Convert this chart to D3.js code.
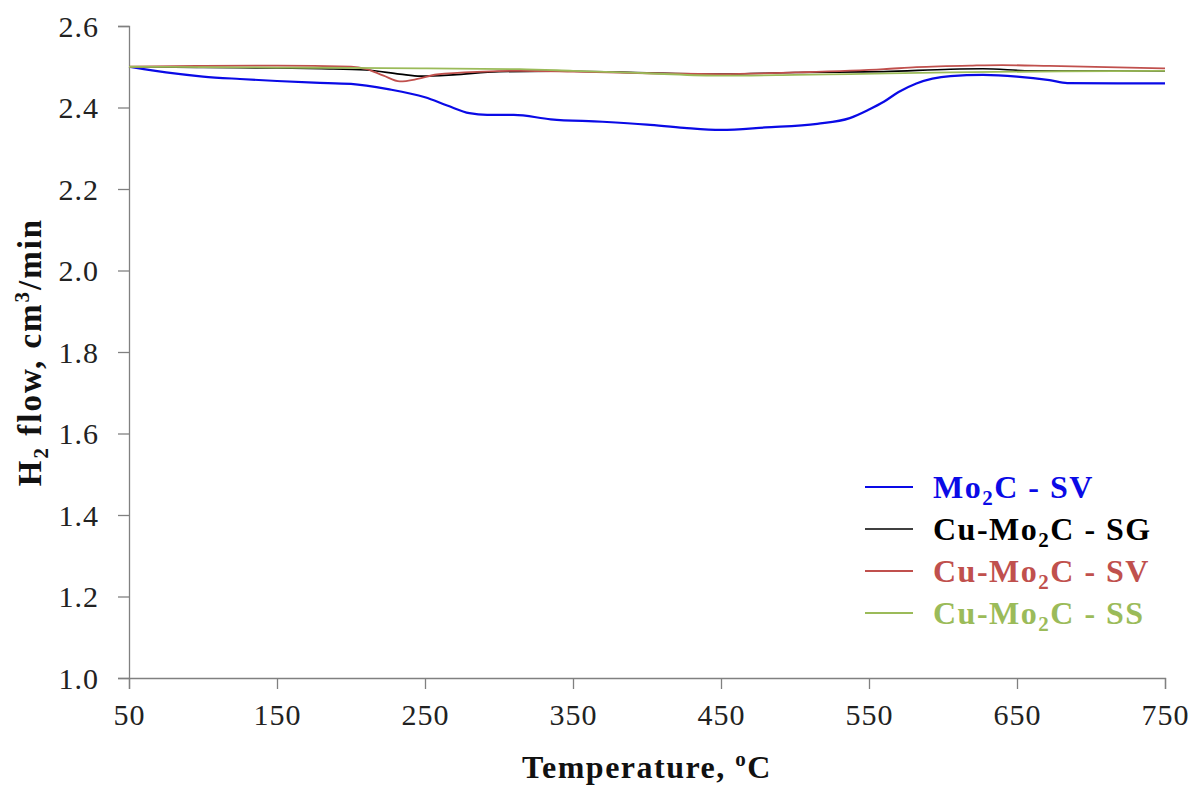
<html>
<head>
<script src="https://cdn.jsdelivr.net/npm/d3@7"></script>
</head>
<body style="margin:0;background:#fff">
<div id="chart"></div>
<script>

// Temperature (°C) and H2 flow (cm3/min)
var tempMoSV = [50, 60, 75, 100, 125, 150, 175, 200, 225, 250, 265, 280, 292, 310, 335, 370, 400, 425, 450, 480, 515, 537, 550, 560, 570, 582, 605, 627, 650, 672, 684, 718, 750];
var flowMoSV = [2.500, 2.494, 2.486, 2.476, 2.470, 2.465, 2.461, 2.458, 2.445, 2.425, 2.405, 2.386, 2.382, 2.382, 2.371, 2.365, 2.358, 2.350, 2.345, 2.351, 2.360, 2.374, 2.395, 2.414, 2.438, 2.459, 2.477, 2.480, 2.476, 2.467, 2.460, 2.459, 2.459];

var tempCuSG = [50, 100, 150, 180, 210, 233, 247, 269, 300, 350, 400, 450, 500, 560, 605, 627, 660, 750];
var flowCuSG = [2.500, 2.498, 2.497, 2.495, 2.492, 2.482, 2.477, 2.480, 2.488, 2.489, 2.485, 2.482, 2.486, 2.488, 2.494, 2.495, 2.490, 2.490];

var tempCuSV = [50, 100, 150, 200, 210, 222, 233, 245, 258, 290, 314, 350, 400, 450, 500, 560, 582, 620, 640, 672, 750];
var flowCuSV = [2.500, 2.502, 2.503, 2.500, 2.495, 2.478, 2.464, 2.470, 2.481, 2.488, 2.490, 2.488, 2.484, 2.482, 2.486, 2.494, 2.499, 2.503, 2.504, 2.502, 2.496];

var tempCuSS = [50, 100, 150, 200, 247, 314, 350, 400, 450, 500, 537, 605, 680, 750];
var flowCuSS = [2.500, 2.499, 2.498, 2.497, 2.496, 2.494, 2.490, 2.484, 2.478, 2.480, 2.482, 2.486, 2.489, 2.490];

var xTicks = [50, 150, 250, 350, 450, 550, 650, 750];
var yTicks = [1.0, 1.2, 1.4, 1.6, 1.8, 2.0, 2.2, 2.4, 2.6];

var series = [
    {sub: "Mo", rest: "C - SV", pre: "", temps: tempMoSV, flows: flowMoSV, color: "#0a0ae6", width: 2.2},
    {sub: "Mo", rest: "C - SG", pre: "Cu-", temps: tempCuSG, flows: flowCuSG, color: "#000000", width: 1.6},
    {sub: "Mo", rest: "C - SV", pre: "Cu-", temps: tempCuSV, flows: flowCuSV, color: "#c0504d", width: 1.8},
    {sub: "Mo", rest: "C - SS", pre: "Cu-", temps: tempCuSS, flows: flowCuSS, color: "#9bbb59", width: 1.8}
];

var margin = {top: 26, right: 31, bottom: 112, left: 129},
    width = 1196 - margin.left - margin.right,
    height = 790 - margin.top - margin.bottom;

var serif = "Liberation Serif";

var svg = d3.select("#chart")
    .append("svg")
    .attr("width", 1196)
    .attr("height", 790)
    .append("g")
    .attr("transform", "translate(" + margin.left + "," + margin.top + ")");

var x = d3.scaleLinear().domain([50, 750]).range([0, width]);
var y = d3.scaleLinear().domain([1.0, 2.6]).range([height, 0]);

// X axis
var xAxis = svg.append("g")
    .attr("transform", "translate(0," + height + ")")
    .call(d3.axisBottom(x).tickValues(xTicks).tickSize(11).tickPadding(15).tickFormat(d3.format("d")));

// Y axis
var yAxis = svg.append("g")
    .call(d3.axisLeft(y).tickValues(yTicks).tickSize(11).tickPadding(19).tickFormat(d3.format(".1f")));

[xAxis, yAxis].forEach(function(a) {
    a.attr("font-family", serif).attr("font-size", 30).attr("letter-spacing", 1);
    a.select(".domain").attr("stroke", "#808080").attr("stroke-width", 1.3);
    a.selectAll(".tick line").attr("stroke", "#808080").attr("stroke-width", 1.3);
    a.selectAll(".tick text").attr("fill", "#222");
});
yAxis.selectAll(".tick text").attr("dy", "0.34em");

// lines
var line = d3.line()
    .x(function(d) { return x(d[0]); })
    .y(function(d) { return y(d[1]); })
    .curve(d3.curveMonotoneX);

series.forEach(function(s) {
    svg.append("path")
        .datum(d3.zip(s.temps, s.flows))
        .attr("fill", "none")
        .attr("stroke", s.color)
        .attr("stroke-width", s.width)
        .attr("d", line);
});

// x axis title
var xt = svg.append("text")
    .attr("x", width / 2)
    .attr("y", height + 100)
    .attr("text-anchor", "middle")
    .attr("font-family", serif)
    .attr("font-weight", "bold")
    .attr("font-size", 32)
    .attr("letter-spacing", 1.5)
    .attr("fill", "#111");
xt.append("tspan").text("Temperature, ");
xt.append("tspan").attr("dy", -12).attr("font-size", 21).text("o");
xt.append("tspan").attr("dy", 12).text("C");

// y axis title
var yt = svg.append("text")
    .attr("transform", "translate(" + (41 - margin.left) + "," + (height / 2) + ") rotate(-90)")
    .attr("text-anchor", "middle")
    .attr("font-family", serif)
    .attr("font-weight", "bold")
    .attr("font-size", 33)
    .attr("letter-spacing", 2)
    .attr("fill", "#111");
yt.append("tspan").text("H");
yt.append("tspan").attr("dy", 7).attr("font-size", 21).text("2");
yt.append("tspan").attr("dy", -7).text(" flow, cm");
yt.append("tspan").attr("dy", -12).attr("font-size", 21).text("3");
yt.append("tspan").attr("dy", 12).text("/min");

// legend
var legend = svg.append("g")
    .attr("transform", "translate(" + (865 - margin.left) + "," + (487 - margin.top) + ")");

series.forEach(function(s, i) {
    var row = legend.append("g").attr("transform", "translate(0," + (i * 42) + ")");
    row.append("line")
        .attr("x1", 0).attr("x2", 48)
        .attr("y1", 0).attr("y2", 0)
        .attr("stroke", s.color)
        .attr("stroke-width", s.width);
    var t = row.append("text")
        .attr("x", 68)
        .attr("y", 11)
        .attr("font-family", serif)
        .attr("font-weight", "bold")
        .attr("font-size", 32)
        .attr("letter-spacing", 1.5)
        .attr("fill", s.color);
    t.append("tspan").text(s.pre + s.sub);
    t.append("tspan").attr("dy", 7).attr("font-size", 21).text("2");
    t.append("tspan").attr("dy", -7).text(s.rest);
});

</script>
</body>
</html>
